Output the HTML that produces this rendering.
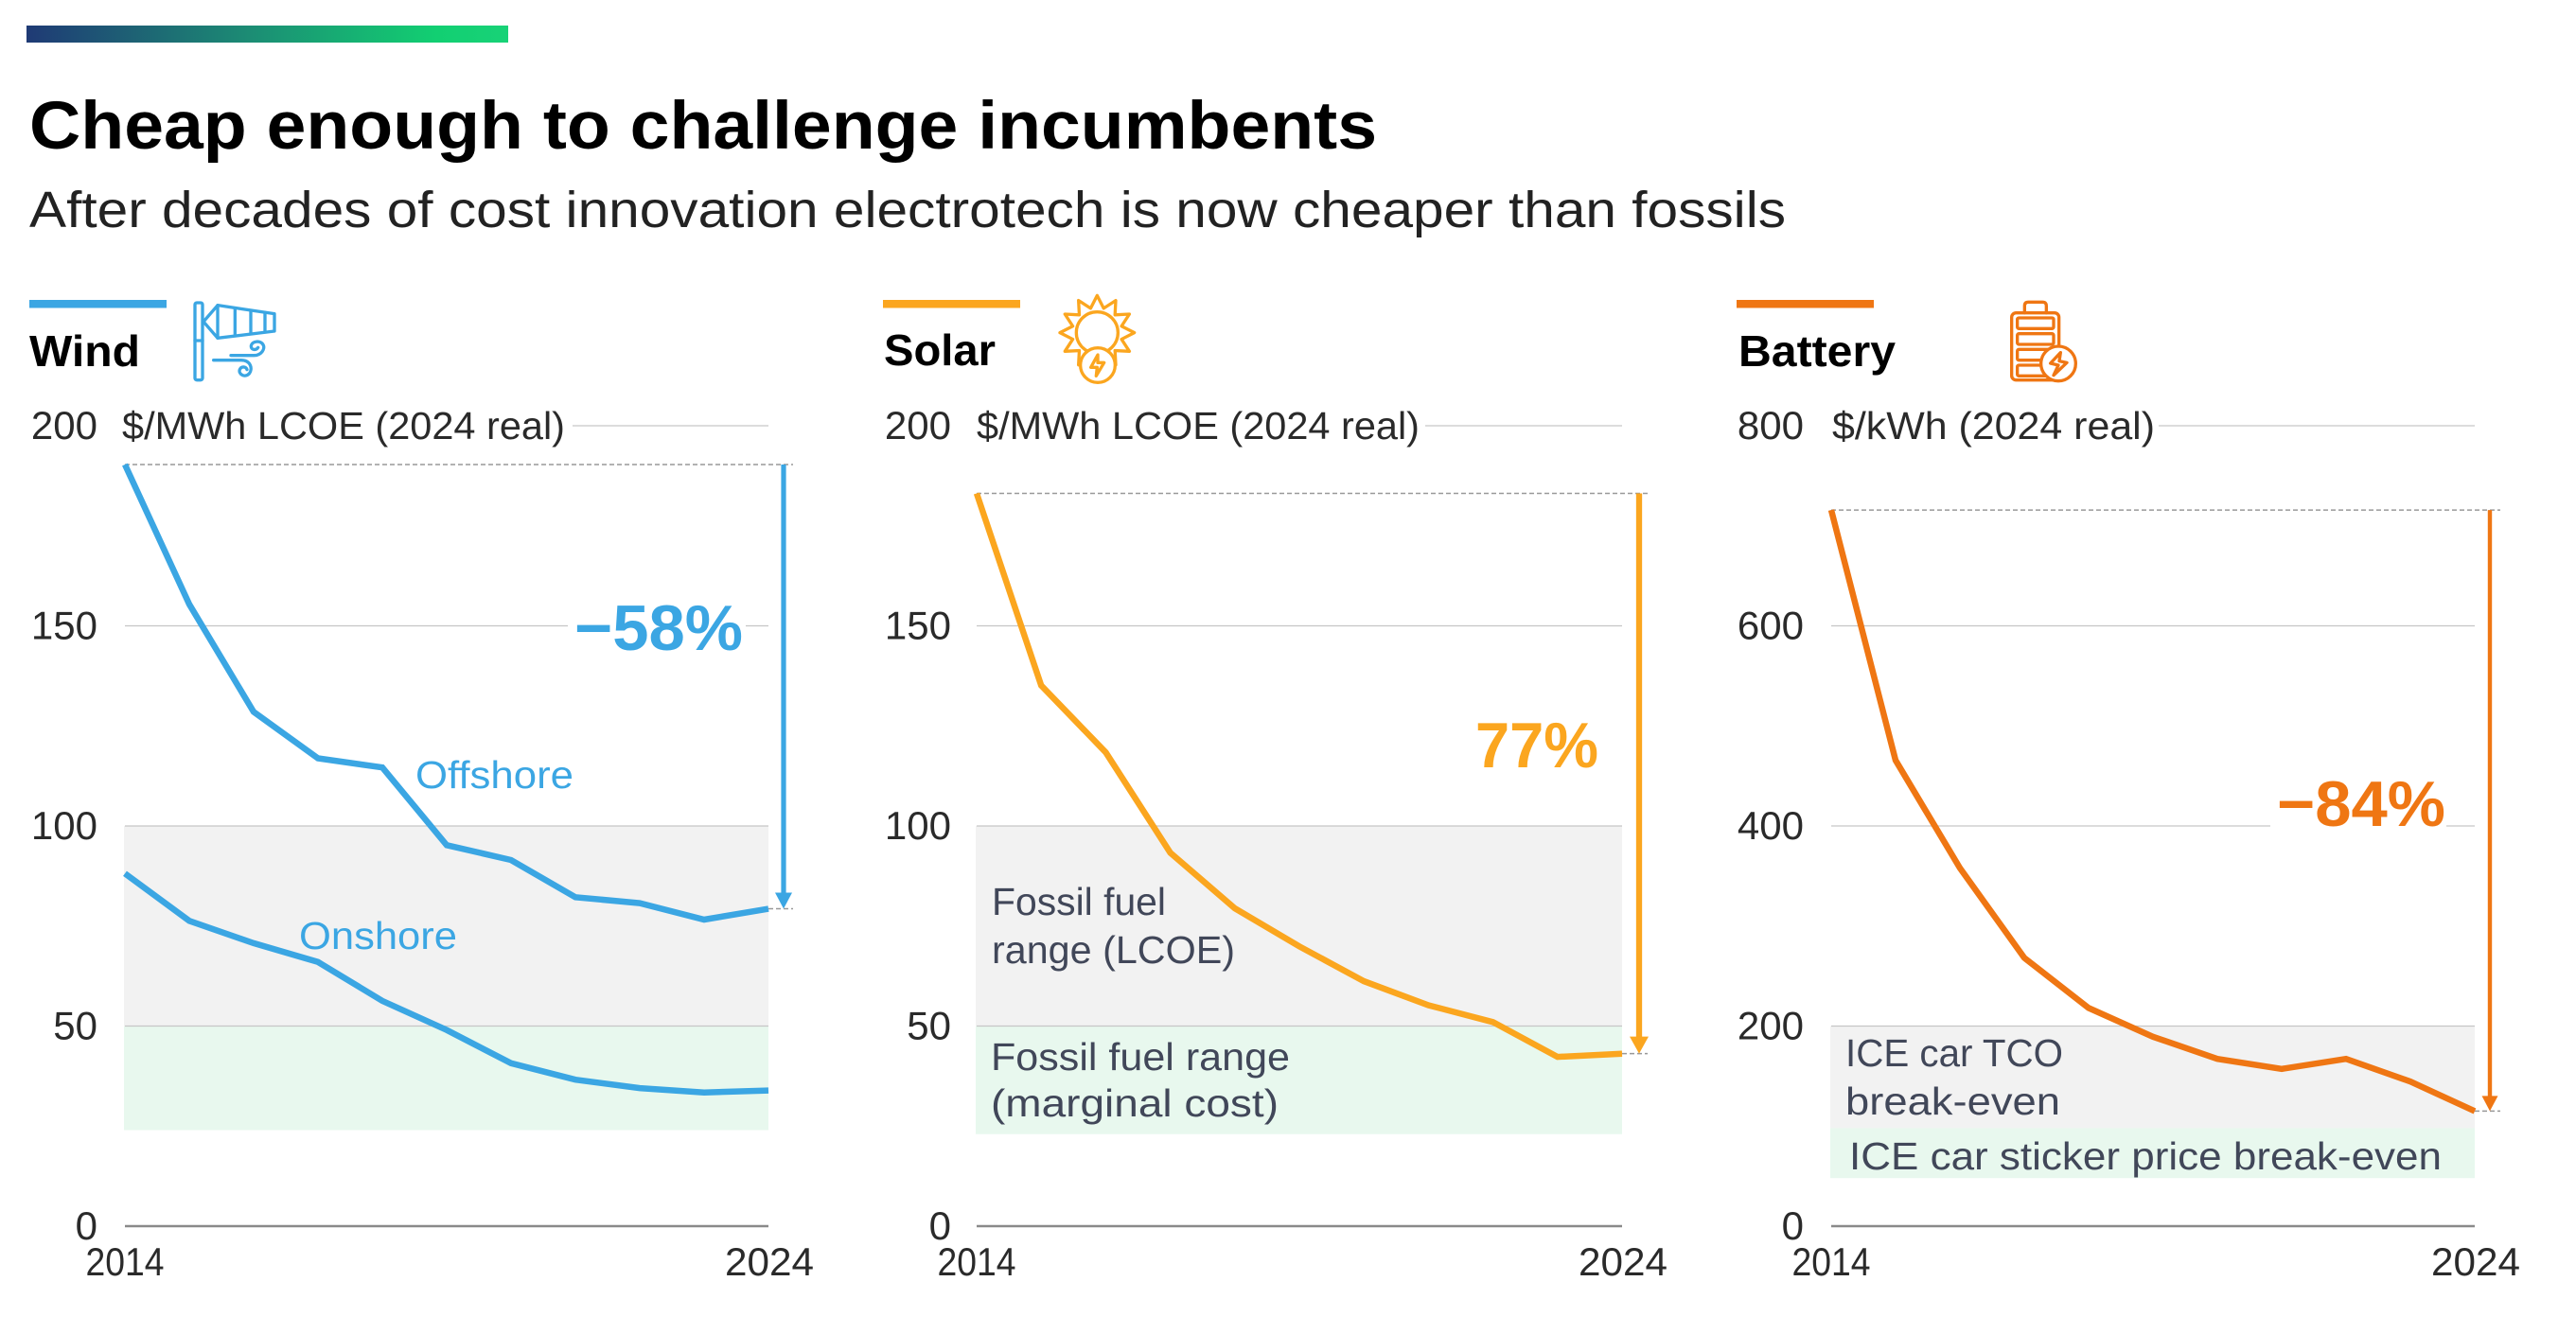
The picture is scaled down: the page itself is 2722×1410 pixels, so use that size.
<!DOCTYPE html>
<html lang="en">
<head>
<meta charset="utf-8">
<title>Cheap enough to challenge incumbents</title>
<style>
html,body{margin:0;padding:0;background:#fff;width:2722px;height:1410px;overflow:hidden}
svg{display:block}
text{font-family:"Liberation Sans",sans-serif}
.tick{font-size:42px;fill:#2a2a2a}
.unit{font-size:41px;fill:#2a2a2a}
.head{font-size:46px;font-weight:700;fill:#000}
.pct{font-size:68px;font-weight:700}
.ser{font-size:41px}
.note{font-size:41px;fill:#414759}
.ic{fill:none;stroke-width:10;stroke-linecap:round;stroke-linejoin:round}
</style>
</head>
<body>
<svg id="figure" xmlns="http://www.w3.org/2000/svg" width="2722" height="1410" viewBox="0 0 2722 1410">
  <defs>
    <linearGradient id="topGrad" x1="0" x2="1" y1="0" y2="0">
      <stop offset="0" stop-color="#1f3a75"/>
      <stop offset="0.45" stop-color="#1c8a74"/>
      <stop offset="0.85" stop-color="#12cf72"/>
      <stop offset="1" stop-color="#18d277"/>
    </linearGradient>
  </defs>
  <rect x="28" y="27" width="509" height="18" fill="url(#topGrad)"/>
  <text x="31" y="157" font-size="71" font-weight="700" fill="#000" textLength="1424" lengthAdjust="spacingAndGlyphs">Cheap enough to challenge incumbents</text>
  <text x="31" y="240" font-size="54" fill="#222" textLength="1856" lengthAdjust="spacingAndGlyphs">After decades of cost innovation electrotech is now cheaper than fossils</text>

  <rect x="31" y="317" width="145" height="8.5" fill="#3ba6e3"/>
  <rect x="933" y="317" width="145" height="8.5" fill="#fba61f"/>
  <rect x="1835" y="317" width="145" height="8.5" fill="#ef7613"/>

  <text class="head" x="31" y="387" textLength="117" lengthAdjust="spacingAndGlyphs">Wind</text>
  <text class="head" x="934" y="386" textLength="118" lengthAdjust="spacingAndGlyphs">Solar</text>
  <text class="head" x="1837" y="387" textLength="166" lengthAdjust="spacingAndGlyphs">Battery</text>

  <g class="ic" stroke="#3ba6e3" transform="translate(180 300) scale(.3333)">
    <rect x="78" y="60" width="24" height="245" rx="6"/>
    <path d="M78 180H102"/>
    <path d="M150 68L330 95V150L150 172L105 120Z"/>
    <path d="M150 68V172M205 78V163M255 86V156M300 91V152"/>
    <path d="M192 227H265C290 227 300 205 295 195C288 178 258 180 256 198C256 210 272 212 278 202"/>
    <path d="M137 242H225C255 242 262 270 250 285C235 300 215 285 220 272C225 260 240 262 243 272"/>
  </g>
  <g class="ic" stroke="#fba61f" transform="translate(1110 300) scale(.3333)">
    <polygon id="sunRays" points="148,58"/>
    <circle cx="148" cy="155" r="66" fill="#fff"/>
    <circle cx="150" cy="258" r="55" fill="#fff"/>
    <path d="M150 225L128 265H148L145 292L170 250H150Z"/>
  </g>
  <g class="ic" stroke="#ef7613" transform="translate(2120 300) scale(.3333)">
    <path d="M58 92V70Q58 58 70 58H115Q127 58 127 70V92"/>
    <rect x="17" y="92" width="150" height="213" rx="14"/>
    <rect x="35" y="108" width="115" height="34" rx="5"/>
    <rect x="35" y="158" width="115" height="34" rx="5"/>
    <rect x="35" y="208" width="115" height="34" rx="5"/>
    <rect x="35" y="258" width="115" height="34" rx="5"/>
    <circle cx="165" cy="253" r="55" fill="#fff"/>
    <path d="M172 218L140 252L165 258L150 290L192 250L168 245Z"/>
  </g>

  <g id="plot-wind"></g>
  <g id="plot-solar"></g>
  <g id="plot-battery"></g>

  <rect x="125" y="425" width="480" height="50" fill="#fff"/>
  <text class="unit" x="129" y="464" textLength="468" lengthAdjust="spacingAndGlyphs">$/MWh LCOE (2024 real)</text>
  <rect x="1026" y="425" width="480" height="50" fill="#fff"/>
  <text class="unit" x="1032" y="464" textLength="468" lengthAdjust="spacingAndGlyphs">$/MWh LCOE (2024 real)</text>
  <rect x="1930" y="425" width="351" height="50" fill="#fff"/>
  <text class="unit" x="1936" y="464" textLength="341" lengthAdjust="spacingAndGlyphs">$/kWh (2024 real)</text>

  <rect x="600" y="640" width="188" height="50" fill="#fff"/>
  <text class="pct" fill="#3ba6e3" x="607" y="687" textLength="178" lengthAdjust="spacingAndGlyphs">−58%</text>
  <text class="pct" fill="#fba61f" x="1559" y="811" textLength="130" lengthAdjust="spacingAndGlyphs">77%</text>
  <rect x="2399" y="828" width="186" height="50" fill="#fff"/>
  <text class="pct" fill="#ef7613" x="2406" y="873" textLength="178" lengthAdjust="spacingAndGlyphs">−84%</text>

  <text class="ser" fill="#3ba6e3" x="439" y="833" textLength="167" lengthAdjust="spacingAndGlyphs">Offshore</text>
  <text class="ser" fill="#3ba6e3" x="316" y="1003" textLength="167" lengthAdjust="spacingAndGlyphs">Onshore</text>

  <text class="note" x="1048" y="967" textLength="184" lengthAdjust="spacingAndGlyphs">Fossil fuel</text>
  <text class="note" x="1048" y="1018" textLength="257" lengthAdjust="spacingAndGlyphs">range (LCOE)</text>
  <text class="note" x="1047" y="1131" textLength="316" lengthAdjust="spacingAndGlyphs">Fossil fuel range</text>
  <text class="note" x="1047" y="1180" textLength="304" lengthAdjust="spacingAndGlyphs">(marginal cost)</text>

  <text class="note" x="1950" y="1127" textLength="230" lengthAdjust="spacingAndGlyphs">ICE car TCO</text>
  <text class="note" x="1950" y="1178" textLength="227" lengthAdjust="spacingAndGlyphs">break-even</text>
  <text class="note" x="1954" y="1236" textLength="626" lengthAdjust="spacingAndGlyphs">ICE car sticker price break-even</text>
</svg>

<script>
const xLabels = ['2014', '2024'];
const windTicks = [0, 50, 100, 150, 200];
const solarTicks = [0, 50, 100, 150, 200];
const batteryTicks = [0, 200, 400, 600, 800];

const offshoreValues = [190.3, 155.4, 128.5, 116.9, 114.6, 95.2, 91.5, 82.2, 80.7, 76.6, 79.3];
const onshoreValues = [88.1, 76.3, 70.7, 66.0, 56.3, 49.0, 40.7, 36.6, 34.5, 33.4, 33.9];
const solarValues = [183.1, 135.1, 118.4, 93.3, 79.4, 69.9, 61.2, 55.2, 51.0, 42.3, 43.1];
const batteryValues = [715.7, 465.6, 357.9, 268.2, 218.1, 189.3, 167.2, 157.2, 167.2, 144.5, 115.0];

const windGrayBand = [50, 100];
const windGreenBand = [24, 50];
const solarGrayBand = [50, 100];
const solarGreenBand = [23, 50];
const batteryGrayBand = [98, 200];
const batteryGreenBand = [48, 98];

const NS = 'http://www.w3.org/2000/svg';

function mk(parent, tag, attrs) {
  const el = document.createElementNS(NS, tag);
  for (const k in attrs) el.setAttribute(k, attrs[k]);
  parent.appendChild(el);
  return el;
}

function drawChart(c) {
  const root = document.getElementById(c.id);
  const yScale = v => c.y0 - v / c.max * (c.y0 - c.yTop);
  const xScale = i => c.x0 + i / (c.count - 1) * (c.x1 - c.x0);

  const gray = mk(root, 'rect', {x: c.x0 - 1, y: yScale(c.gray[1]), width: c.x1 - c.x0 + 1, height: yScale(c.gray[0]) - yScale(c.gray[1]), fill: '#f2f2f2'});
  
  
  const green = mk(root, 'rect', {x: c.x0 - 1, y: yScale(c.green[1]), width: c.x1 - c.x0 + 1, height: yScale(c.green[0]) - yScale(c.green[1]), fill: '#e8f8ee'});
  
  

  c.ticks.forEach(t => {
    const line = mk(root, 'line', {x1: c.x0, x2: c.x1, y1: yScale(t), y2: yScale(t), stroke: t === 0 ? '#8a8a8a' : '#c6c6c6', 'stroke-width': t === 0 ? 2.5 : 1.2});
    
    
    const label = mk(root, 'text', {x: c.labelRight, y: yScale(t) + 14, 'text-anchor': 'end', class: 'tick'});
    
    
    label.textContent = t;
  });

  xLabels.forEach((lab, i) => {
    const tx = mk(root, 'text', {x: i === 0 ? c.x0 : c.x1 + 1, y: 1348, 'text-anchor': 'middle', class: 'tick', textLength: i === 0 ? 83 : 94, lengthAdjust: 'spacingAndGlyphs'});
    
    
    tx.textContent = lab;
  });

  const first = c.series[c.arrowSeries][0];
  const last = c.series[c.arrowSeries][c.count - 1];
  const topDash = mk(root, 'line', {x1: c.x0, x2: c.dashEnd, y1: yScale(first), y2: yScale(first), stroke: '#999', 'stroke-width': 1.5, 'stroke-dasharray': '5 3'});
  
  
  const botDash = mk(root, 'line', {x1: c.x1, x2: c.dashEnd, y1: yScale(last), y2: yScale(last), stroke: '#999', 'stroke-width': 1.5, 'stroke-dasharray': '5 3'});
  
  

  c.series.forEach(values => {
    const d = values.map((v, i) => (i ? 'L' : 'M') + xScale(i).toFixed(1) + ' ' + yScale(v).toFixed(1)).join('');
    const path = mk(root, 'path', {d: d, fill: 'none', stroke: c.color, 'stroke-width': 6.5, 'stroke-linejoin': 'miter'});
    
    
  });

  const shaft = mk(root, 'line', {x1: c.arrowX, x2: c.arrowX, y1: yScale(first), y2: yScale(last) - c.headH + 2, stroke: c.color, 'stroke-width': c.arrowW});
  
  
  const yEnd = yScale(last);
  const head = mk(root, 'polygon', {points: (c.arrowX - c.headW / 2) + ',' + (yEnd - c.headH) + ' ' + (c.arrowX + c.headW / 2) + ',' + (yEnd - c.headH) + ' ' + c.arrowX + ',' + yEnd, fill: c.color});
  
  
}

drawChart({id: 'plot-wind', x0: 132, x1: 812, y0: 1296, yTop: 450, max: 200, count: 11, ticks: windTicks, labelRight: 103, series: [offshoreValues, onshoreValues], arrowSeries: 0, gray: windGrayBand, green: windGreenBand, color: '#3ba6e3', dashEnd: 838, arrowX: 828, arrowW: 5.2, headW: 18, headH: 17});
drawChart({id: 'plot-solar', x0: 1032, x1: 1714, y0: 1296, yTop: 450, max: 200, count: 11, ticks: solarTicks, labelRight: 1005, series: [solarValues], arrowSeries: 0, gray: solarGrayBand, green: solarGreenBand, color: '#fba61f', dashEnd: 1741, arrowX: 1732, arrowW: 6.3, headW: 20, headH: 18});
drawChart({id: 'plot-battery', x0: 1935, x1: 2615, y0: 1296, yTop: 450, max: 800, count: 11, ticks: batteryTicks, labelRight: 1906, series: [batteryValues], arrowSeries: 0, gray: batteryGrayBand, green: batteryGreenBand, color: '#ef7613', dashEnd: 2642, arrowX: 2631, arrowW: 4.4, headW: 17, headH: 16});

const rays = [];
for (let i = 0; i < 24; i++) {
  const a = i / 24 * Math.PI * 2 - Math.PI / 2;
  const r = i % 2 === 0 ? 118 : 80;
  rays.push((148 + r * Math.cos(a)).toFixed(1) + ',' + (155 + r * Math.sin(a)).toFixed(1));
}
document.getElementById('sunRays').setAttribute('points', rays.join(' '));
</script>
</body>
</html>
